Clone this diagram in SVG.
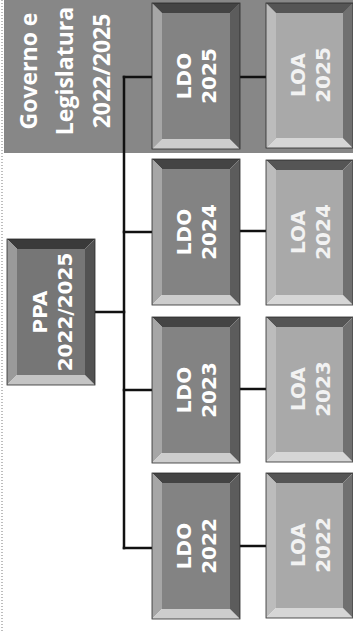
<svg xmlns="http://www.w3.org/2000/svg" xmlns:xlink="http://www.w3.org/1999/xlink" width="353" height="631" viewBox="0 0 353 631">
<style>
.band{fill:#878787}
.ldo .t{fill:#444}.ldo .l{fill:#a6a6a6}.ldo .b{fill:#cdcdcd}.ldo .r{fill:#5c5c5c}.ldo .i{fill:#838383}
.loa .t{fill:#555}.loa .l{fill:#bcbcbc}.loa .b{fill:#d6d6d6}.loa .r{fill:#707070}.loa .i{fill:#a9a9a9}
.ppa .t{fill:#3a3a3a}.ppa .l{fill:#9a9a9a}.ppa .b{fill:#c4c4c4}.ppa .r{fill:#525252}.ppa .i{fill:#767676}
.edge{fill:none;stroke:#2a2a2a;stroke-width:0.8}
.lbl{font-family:"DejaVu Sans",Verdana,sans-serif;font-weight:bold;font-size:20px;text-anchor:middle;fill:#fff}
.loa-lbl{fill:#f2f2f2}
.gov{font-family:"Open Sans","Noto Sans",sans-serif;font-weight:bold;font-size:23px;text-anchor:middle;fill:#fff}
.conn line{stroke:#111;stroke-width:2.5;stroke-linecap:square}
</style>
<defs>
<g id="fLDO" class="ldo">
<polygon class="t" points="0,0 88,0 78,10 10,10"/>
<polygon class="l" points="0,0 10,10 10,136 0,146"/>
<polygon class="b" points="0,146 10,136 78,136 88,146"/>
<polygon class="r" points="88,0 88,146 78,136 78,10"/>
<rect class="i" x="10" y="10" width="68" height="126"/>
<rect class="edge" x="0" y="0" width="88" height="146"/>
</g>
<g id="fLOA" class="loa">
<polygon class="t" points="0,0 87,0 77,10 10,10"/>
<polygon class="l" points="0,0 10,10 10,135 0,145"/>
<polygon class="b" points="0,145 10,135 77,135 87,145"/>
<polygon class="r" points="87,0 87,145 77,135 77,10"/>
<rect class="i" x="10" y="10" width="67" height="125"/>
<rect class="edge" x="0" y="0" width="87" height="145"/>
</g>
<g id="fPPA" class="ppa">
<polygon class="t" points="0,0 88,0 78,10 10,10"/>
<polygon class="l" points="0,0 10,10 10,136 0,146"/>
<polygon class="b" points="0,146 10,136 78,136 88,146"/>
<polygon class="r" points="88,0 88,146 78,136 78,10"/>
<rect class="i" x="10" y="10" width="68" height="126"/>
<rect class="edge" x="0" y="0" width="88" height="146"/>
</g>
</defs>
<rect width="353" height="631" fill="#fff"/>
<line x1="2" y1="0" x2="2" y2="631" stroke="#bdbdbd" stroke-width="2" stroke-dasharray="1,2"/>
<g id="governo">
<rect class="band" x="4" y="0" width="349" height="153"/>
<text class="gov" transform="translate(0,71) rotate(-90)"><tspan x="0" y="37">Governo e</tspan><tspan x="0" y="73">Legislatura</tspan><tspan x="0" y="110">2022/2025</tspan></text>
</g>
<g class="conn" id="connectors">
<line x1="124" y1="77" x2="124" y2="548"/>
<line x1="124" y1="77" x2="152" y2="77"/>
<line x1="124" y1="232" x2="152" y2="232"/>
<line x1="124" y1="390" x2="152" y2="390"/>
<line x1="124" y1="548" x2="152" y2="548"/>
<line x1="95" y1="312" x2="124" y2="312"/>
<line x1="240" y1="77" x2="266" y2="77"/>
<line x1="240" y1="231" x2="266" y2="231"/>
<line x1="240" y1="389" x2="266" y2="389"/>
<line x1="240" y1="546" x2="266" y2="546"/>
</g>
<g id="ppa">
<use xlink:href="#fPPA" x="7" y="239"/>
<text class="lbl" transform="translate(51,312) rotate(-90)"><tspan x="0" y="-4">PPA</tspan><tspan x="0" y="21">2022/2025</tspan></text>
</g>
<g id="ldo2025">
<use xlink:href="#fLDO" x="152" y="3"/>
<text class="lbl" transform="translate(196,76) rotate(-90)"><tspan x="0" y="-5">LDO</tspan><tspan x="0" y="20">2025</tspan></text>
</g>
<g id="ldo2024">
<use xlink:href="#fLDO" x="152" y="159"/>
<text class="lbl" transform="translate(196,232) rotate(-90)"><tspan x="0" y="-5">LDO</tspan><tspan x="0" y="20">2024</tspan></text>
</g>
<g id="ldo2023">
<use xlink:href="#fLDO" x="152" y="317"/>
<text class="lbl" transform="translate(196,390) rotate(-90)"><tspan x="0" y="-5">LDO</tspan><tspan x="0" y="20">2023</tspan></text>
</g>
<g id="ldo2022">
<use xlink:href="#fLDO" x="152" y="473"/>
<text class="lbl" transform="translate(196,546) rotate(-90)"><tspan x="0" y="-5">LDO</tspan><tspan x="0" y="20">2022</tspan></text>
</g>
<g id="loa2025">
<use xlink:href="#fLOA" x="266" y="3"/>
<text class="lbl loa-lbl" transform="translate(309.5,75) rotate(-90)"><tspan x="0" y="-5">LOA</tspan><tspan x="0" y="20">2025</tspan></text>
</g>
<g id="loa2024">
<use xlink:href="#fLOA" x="266" y="160"/>
<text class="lbl loa-lbl" transform="translate(309.5,232) rotate(-90)"><tspan x="0" y="-5">LOA</tspan><tspan x="0" y="20">2024</tspan></text>
</g>
<g id="loa2023">
<use xlink:href="#fLOA" x="266" y="317"/>
<text class="lbl loa-lbl" transform="translate(309.5,389) rotate(-90)"><tspan x="0" y="-5">LOA</tspan><tspan x="0" y="20">2023</tspan></text>
</g>
<g id="loa2022">
<use xlink:href="#fLOA" x="266" y="473"/>
<text class="lbl loa-lbl" transform="translate(309.5,545) rotate(-90)"><tspan x="0" y="-5">LOA</tspan><tspan x="0" y="20">2022</tspan></text>
</g>
</svg>
